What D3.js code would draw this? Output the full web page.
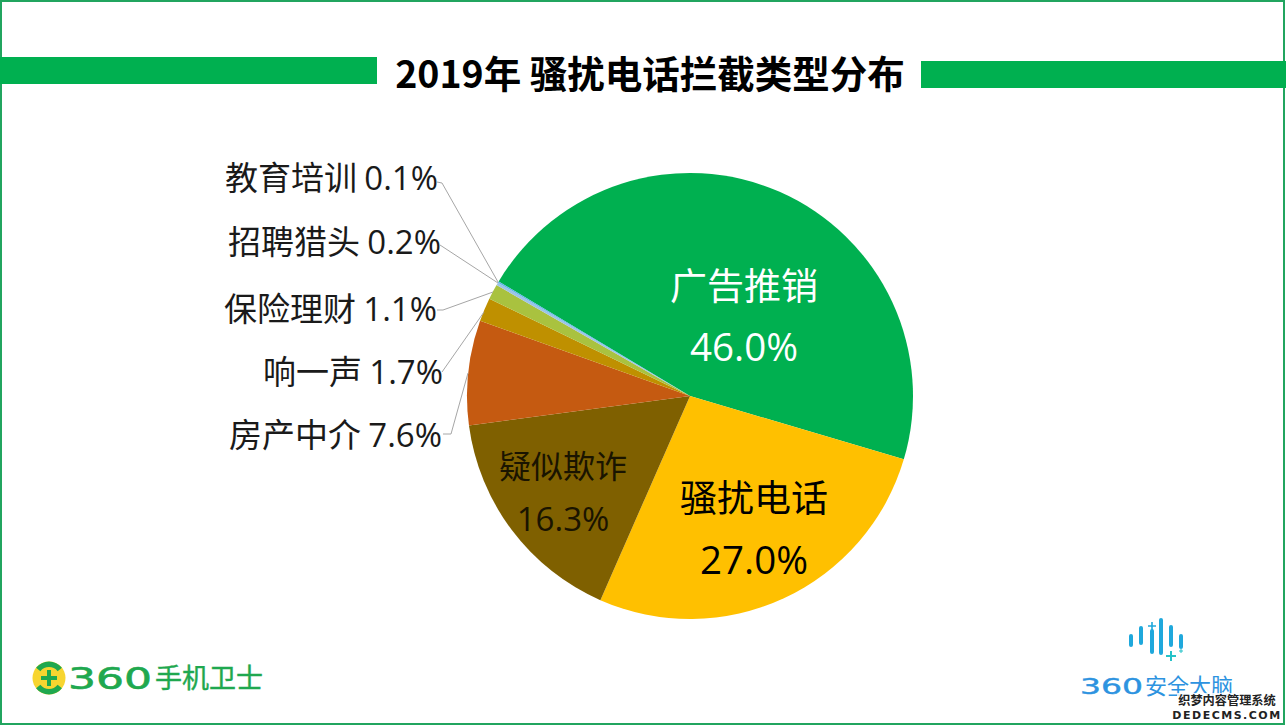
<!DOCTYPE html>
<html>
<head>
<meta charset="utf-8">
<script src="https://cdn.jsdelivr.net/npm/d3@7"></script>
<style>
html, body { margin: 0; padding: 0; background: #fff; }
text { font-family: "Noto Sans CJK SC", "Open Sans", sans-serif; }
</style>
</head>
<body>
<svg id="chart" width="1286" height="726" style="display:block"></svg>
<script>
let categories = ['广告推销', '骚扰电话', '疑似欺诈', '房产中介', '响一声', '保险理财', '招聘猎头', '教育培训']
let values = [46.0, 27.0, 16.3, 7.6, 1.7, 1.1, 0.2, 0.1]
let colors = ['#00b050', '#ffc000', '#7f6000', '#c55a11', '#bf9000', '#a9c23f', '#9dc3e6', '#5bb5e8']

let svg = d3.select('#chart')
let green = '#00b050'

// frame and title bars
svg.append('rect').attr('x', 1).attr('y', 1).attr('width', 1283).attr('height', 723)
    .attr('fill', 'none').attr('stroke', '#21a55f').attr('stroke-width', 2)
svg.append('rect').attr('x', 0).attr('y', 57).attr('width', 377).attr('height', 27).attr('fill', green)
svg.append('rect').attr('x', 921).attr('y', 61).attr('width', 365).attr('height', 27).attr('fill', green)
svg.append('text').attr('x', 650).attr('y', 88).attr('text-anchor', 'middle')
    .attr('font-size', 37.5).attr('font-weight', 700).attr('fill', '#000')
    .text('2019年 骚扰电话拦截类型分布')

// pie
let cx = 690, cy = 396, radius = 223
let startAngle = -59.1 * Math.PI / 180
let pie = d3.pie().sort(null).startAngle(startAngle).endAngle(startAngle + 2 * Math.PI)
let arcs = pie(values)
let arc = d3.arc().innerRadius(0).outerRadius(radius)
let g = svg.append('g').attr('transform', 'translate(' + cx + ',' + cy + ')')
g.selectAll('path').data(arcs).enter().append('path')
    .attr('d', arc)
    .attr('fill', (d, i) => colors[i])

// inside labels
let insideLabels = [
    { i: 0, x: 744, y: 300, size: 37, numSize: 38.5, fill: '#fff', gap: 61 },
    { i: 1, x: 754, y: 512, size: 37, numSize: 38.5, fill: '#000', gap: 62 },
    { i: 2, x: 563, y: 478, size: 32, numSize: 33, fill: '#1a1400', gap: 53 }
]
insideLabels.forEach(l => {
    svg.append('text').attr('x', l.x).attr('y', l.y).attr('text-anchor', 'middle')
        .attr('font-size', l.size).attr('fill', l.fill).text(categories[l.i])
    svg.append('text').attr('x', l.x).attr('y', l.y + l.gap).attr('text-anchor', 'middle')
        .attr('font-size', l.numSize).attr('fill', l.fill)
        .style('font-family', '"Open Sans", sans-serif')
        .text(values[l.i].toFixed(1) + '%')
})

// outside labels with leader lines
let outsideLabels = [
    { i: 7, x: 438, y: 190, line: [[437, 182], [442, 183], [498, 282]] },
    { i: 6, x: 441, y: 254, line: [[440, 245], [498, 283]] },
    { i: 5, x: 437, y: 321, line: [[437, 310], [443, 310], [493, 292]] },
    { i: 4, x: 443, y: 384, line: [[442, 372], [484, 312]] },
    { i: 3, x: 442, y: 447, line: [[443, 434], [451, 434], [468, 373]] }
]
outsideLabels.forEach(l => {
    let t = svg.append('text').attr('x', l.x).attr('y', l.y).attr('text-anchor', 'end')
        .attr('font-size', 33).attr('fill', '#1a1a1a')
    t.append('tspan').text(categories[l.i] + ' ')
    t.append('tspan').style('font-family', '"Open Sans", sans-serif').text(values[l.i].toFixed(1) + '%')
    svg.append('path')
        .attr('d', d3.line()(l.line))
        .attr('fill', 'none').attr('stroke', '#a6a6a6').attr('stroke-width', 1)
})

// 360手机卫士 logo
let logoGreen = '#1fa84f'
let logoA = svg.append('g')
logoA.append('circle').attr('cx', 49).attr('cy', 678).attr('r', 16.5).attr('fill', '#f7d530')
logoA.append('path').attr('d', d3.arc().innerRadius(11).outerRadius(16.5).startAngle(-0.9).endAngle(0.9)())
    .attr('transform', 'translate(49,678)').attr('fill', logoGreen)
logoA.append('path').attr('d', d3.arc().innerRadius(11).outerRadius(16.5).startAngle(Math.PI - 0.9).endAngle(Math.PI + 0.9)())
    .attr('transform', 'translate(49,678)').attr('fill', logoGreen)
logoA.append('rect').attr('x', 41).attr('y', 676).attr('width', 16).attr('height', 4).attr('fill', logoGreen)
logoA.append('rect').attr('x', 47).attr('y', 670).attr('width', 4).attr('height', 16).attr('fill', logoGreen)
logoA.append('text').attr('x', 68).attr('y', 689).attr('font-size', 30).attr('fill', logoGreen)
    .attr('stroke', logoGreen).attr('stroke-width', 0.6)
    .attr('textLength', 84).attr('lengthAdjust', 'spacingAndGlyphs')
    .style('font-family', '"DejaVu Sans", sans-serif').text('360')
logoA.append('text').attr('x', 155).attr('y', 688).attr('font-size', 27).attr('fill', logoGreen)
    .attr('stroke', logoGreen).attr('stroke-width', 0.4).text('手机卫士')

// 360安全大脑 logo
let brainBars = [[1131, 636, 645], [1141, 628, 643], [1152, 631, 652], [1161, 620, 653], [1171, 627, 645], [1181, 636, 647]]
brainBars.forEach(b => {
    svg.append('line').attr('x1', b[0]).attr('x2', b[0]).attr('y1', b[1]).attr('y2', b[2])
        .attr('stroke', '#1fa8dc').attr('stroke-width', 4).attr('stroke-linecap', 'round')
})
let brainPlus = [[1152, 626, 4, '#1fa8dc', 1.6], [1171, 656, 5, '#25c2c8', 2], [1181, 651, 2, '#25c2c8', 1]]
brainPlus.forEach(p => {
    svg.append('path').attr('d', 'M' + (p[0] - p[2]) + ',' + p[1] + 'H' + (p[0] + p[2]) + 'M' + p[0] + ',' + (p[1] - p[2]) + 'V' + (p[1] + p[2]))
        .attr('stroke', p[3]).attr('stroke-width', p[4])
})
svg.append('text').attr('x', 1080).attr('y', 694).attr('font-size', 21).attr('fill', '#2d93e0')
    .attr('stroke', '#2d93e0').attr('stroke-width', 0.4)
    .attr('textLength', 63).attr('lengthAdjust', 'spacingAndGlyphs')
    .style('font-family', '"DejaVu Sans", sans-serif').text('360')
svg.append('text').attr('x', 1145).attr('y', 694).attr('font-size', 22).attr('fill', '#2d93e0').text('安全大脑')

// watermark
svg.append('rect').attr('x', 1177).attr('y', 693).attr('width', 100).attr('height', 29).attr('fill', '#fff').attr('opacity', 0.85)
svg.append('text').attr('x', 1227).attr('y', 705).attr('text-anchor', 'middle').attr('font-size', 12.2)
    .attr('font-weight', 700).attr('fill', '#222').text('织梦内容管理系统')
svg.append('text').attr('x', 1227).attr('y', 719).attr('text-anchor', 'middle').attr('font-size', 11)
    .attr('font-weight', 700).attr('letter-spacing', 1.5).attr('fill', '#222')
    .style('font-family', '"DejaVu Sans", sans-serif').text('DEDECMS.COM')
</script>
</body>
</html>
